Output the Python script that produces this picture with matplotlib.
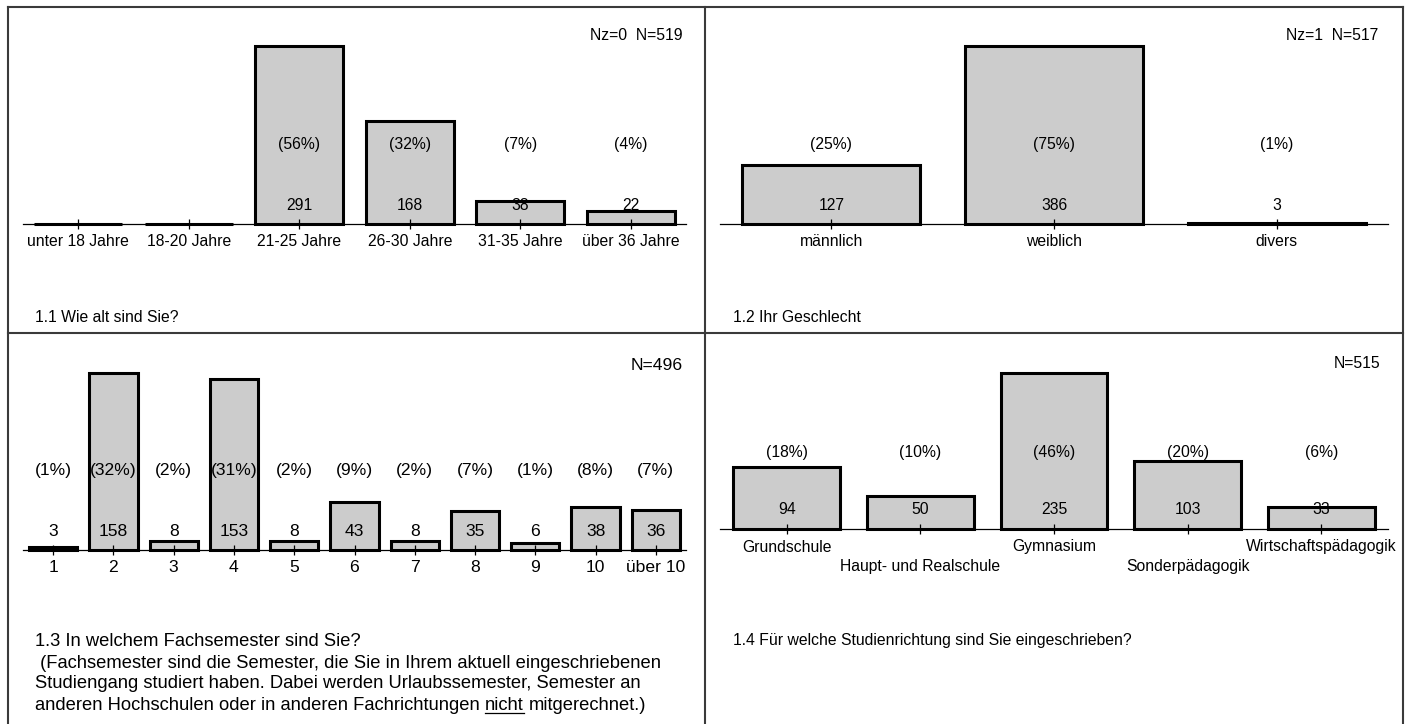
import numpy as np
import matplotlib
matplotlib.use('Agg')
import matplotlib.pyplot as plt
from matplotlib import transforms
from matplotlib.lines import Line2D

plt.rcParams['font.family'] = ['Liberation Sans', 'DejaVu Sans']
plt.rcParams['font.size'] = 11.3

# data
age_labels = ['unter 18 Jahre', '18-20 Jahre', '21-25 Jahre', '26-30 Jahre', '31-35 Jahre', 'über 36 Jahre']
age_counts = [0, 0, 291, 168, 38, 22]
age_pct = ['', '', '(56%)', '(32%)', '(7%)', '(4%)']

sex_labels = ['männlich', 'weiblich', 'divers']
sex_counts = [127, 386, 3]
sex_pct = ['(25%)', '(75%)', '(1%)']

sem_labels = ['1', '2', '3', '4', '5', '6', '7', '8', '9', '10', 'über 10']
sem_counts = [3, 158, 8, 153, 8, 43, 8, 35, 6, 38, 36]
sem_pct = ['(1%)', '(32%)', '(2%)', '(31%)', '(2%)', '(9%)', '(2%)', '(7%)', '(1%)', '(8%)', '(7%)']

dir_labels = ['Grundschule', 'Haupt- und Realschule', 'Gymnasium', 'Sonderpädagogik', 'Wirtschaftspädagogik']
dir_counts = [94, 50, 235, 103, 33]
dir_pct = ['(18%)', '(10%)', '(46%)', '(20%)', '(6%)']

W, H = 1407, 724
fig = plt.figure(figsize=(W / 100, H / 100), dpi=100)


def panel(left, right, base, top, labels, counts, pcts, ntext, ny, nx,
          pct_dy, cnt_dy=19, lab_dy=18, two_rows=False, fs=11.3):
    ax = fig.add_axes([left / W, 1 - base / H, (right - left) / W, (base - top) / H])
    x = np.arange(len(counts))
    ax.bar(x, counts, width=0.8, color='#cccccc', edgecolor='black',
           linewidth=2.2, clip_on=False)
    ax.set_xlim(-0.5, len(counts) - 0.5)
    ax.set_ylim(0, max(counts))
    for s in ['top', 'right', 'left']:
        ax.spines[s].set_visible(False)
    ax.spines['bottom'].set_linewidth(0.9)
    ax.set_yticks([])
    ax.set_xticks(x)
    ax.set_xticklabels([])
    ax.tick_params(axis='x', direction='inout', length=7, width=0.9)
    ax.patch.set_visible(False)

    tr = ax.get_xaxis_transform()

    def off(dy):
        return transforms.offset_copy(tr, fig=fig, x=0, y=dy, units='dots')

    for i in range(len(counts)):
        if counts[i] > 0:
            ax.text(i, 0, str(counts[i]), transform=off(cnt_dy), ha='center', va='center',
                    fontsize=fs, zorder=3)
        if pcts[i]:
            ax.text(i, 0, pcts[i], transform=off(pct_dy), ha='center', va='center',
                    fontsize=fs, zorder=3)
        dy = lab_dy
        if two_rows and i % 2 == 1:
            dy = lab_dy + 20
        ax.text(i, 0, labels[i], transform=off(-dy), ha='center', va='center',
                fontsize=fs, clip_on=False)

    fig.text(nx / W, 1 - ny / H, ntext, ha='right', va='center', fontsize=fs)
    return ax


panel(23, 686, 224, 46, age_labels, age_counts, age_pct, 'Nz=0  N=519', 35, 683, pct_dy=79)
panel(720, 1388, 224, 46, sex_labels, sex_counts, sex_pct, 'Nz=1  N=517', 35, 1378, pct_dy=79)
panel(23, 686, 550, 373, sem_labels, sem_counts, sem_pct, 'N=496', 365, 683, pct_dy=79,
      fs=12.6)
panel(720, 1388, 529, 373, dir_labels, dir_counts, dir_pct, 'N=515', 363, 1380, pct_dy=77,
      two_rows=True)

# frame
fc = '#3a3a3a'
for xs, ys in [([7.5, 1403], [7, 7]), ([7.5, 7.5], [7, 724]), ([1403, 1403], [7, 724]),
               ([705, 705], [7, 724]), ([7.5, 1403], [333, 333])]:
    fig.add_artist(Line2D([v / W for v in xs], [1 - v / H for v in ys],
                          color=fc, linewidth=1.5, transform=fig.transFigure))

# question texts
fig.text(35 / W, 1 - 317 / H, '1.1 Wie alt sind Sie?', va='center')
fig.text(733 / W, 1 - 317 / H, '1.2 Ihr Geschlecht', va='center')
fig.text(733 / W, 1 - 641 / H, '1.4 Für welche Studienrichtung sind Sie eingeschrieben?', va='center')

qfs = 13.2
q3 = ['1.3 In welchem Fachsemester sind Sie?',
      ' (Fachsemester sind die Semester, die Sie in Ihrem aktuell eingeschriebenen',
      'Studiengang studiert haben. Dabei werden Urlaubssemester, Semester an']
ys3 = [642, 663, 684, 705]
for t, y in zip(q3, ys3):
    fig.text(35 / W, 1 - y / H, t, va='center', fontsize=qfs)

# last line with underlined "nicht"
fig.canvas.draw()
r = fig.canvas.get_renderer()
t1 = fig.text(35 / W, 1 - ys3[3] / H, 'anderen Hochschulen oder in anderen Fachrichtungen',
              va='center', fontsize=qfs)
a = fig.text(0, 0, 'x x', fontsize=qfs)
b = fig.text(0, 0, 'xx', fontsize=qfs)
sp = a.get_window_extent(r).width - b.get_window_extent(r).width
a.remove()
b.remove()
x1 = t1.get_window_extent(r).x1 + sp
t2 = fig.text(x1 / W, 1 - ys3[3] / H, 'nicht', va='center', fontsize=qfs)
bb = t2.get_window_extent(r)
fig.add_artist(Line2D([bb.x0 / W, bb.x1 / W], [(bb.y0 + 1) / H, (bb.y0 + 1) / H],
                      color='black', linewidth=0.9, transform=fig.transFigure))
fig.text((bb.x1 + sp) / W, 1 - ys3[3] / H, 'mitgerechnet.)', va='center', fontsize=qfs)

fig.savefig('out.png', dpi=100)
